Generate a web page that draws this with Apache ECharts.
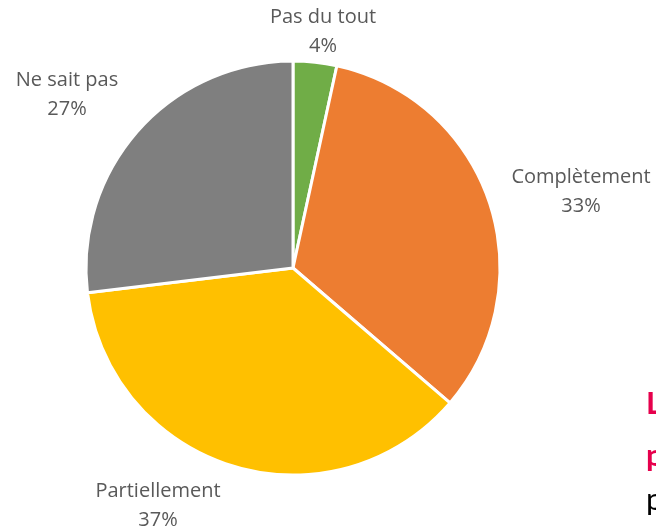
<!DOCTYPE html>
<html>
<head>
<meta charset="utf-8">
<script src="https://cdn.jsdelivr.net/npm/echarts@6/dist/echarts.min.js"></script>
<style>
  html, body { margin: 0; padding: 0; background: #fff; }
  #main { width: 656px; height: 532px; }
</style>
</head>
<body>
<div id="main"></div>
<script>
var categories = ['Pas du tout', 'Complètement', 'Partiellement', 'Ne sait pas'];
var values = [3.4, 32.9, 36.8, 26.9];
var percentLabels = ['4%', '33%', '37%', '27%'];
var colors = ['#70AD47', '#ED7D31', '#FFC000', '#7F7F7F'];

// where Excel put each label (text centre)
var labelPos = [[323, 32], [581, 192], [158, 506], [67, 95]];

var chartDom = document.getElementById('main');
var myChart = echarts.init(chartDom);
var option;

option = {
  animation: false,
  textStyle: { fontFamily: 'Open Sans' },
  series: [
    {
      type: 'pie',
      center: [293, 268],
      radius: 207,
      startAngle: 90,
      clockwise: true,
      avoidLabelOverlap: false,
      itemStyle: { borderColor: '#fff', borderWidth: 3 },
      label: {
        show: true,
        position: 'outside',
        color: '#595959',
        fontSize: 20,
        lineHeight: 29,
        fontFamily: 'Open Sans',
        align: 'center',
        formatter: function (p) {
          return p.name + '\n' + percentLabels[p.dataIndex];
        }
      },
      labelLine: { show: false },
      labelLayout: function (params) {
        var pos = labelPos[params.dataIndex];
        return { x: pos[0], y: pos[1], align: 'center', verticalAlign: 'middle' };
      },
      data: categories.map(function (c, i) {
        return { name: c, value: values[i], itemStyle: { color: colors[i] } };
      })
    }
  ],
  graphic: [
    { type: 'text', left: 646, top: 388, style: { text: 'L', fill: '#E6004C', font: 'bold 31px Lato' } },
    { type: 'text', left: 646, top: 440, style: { text: 'p', fill: '#E6004C', font: 'bold 31px Lato' } },
    { type: 'text', left: 646, top: 484, style: { text: 'p', fill: '#000', font: '31px Lato' } }
  ]
};

option && myChart.setOption(option);
</script>
</body>
</html>
